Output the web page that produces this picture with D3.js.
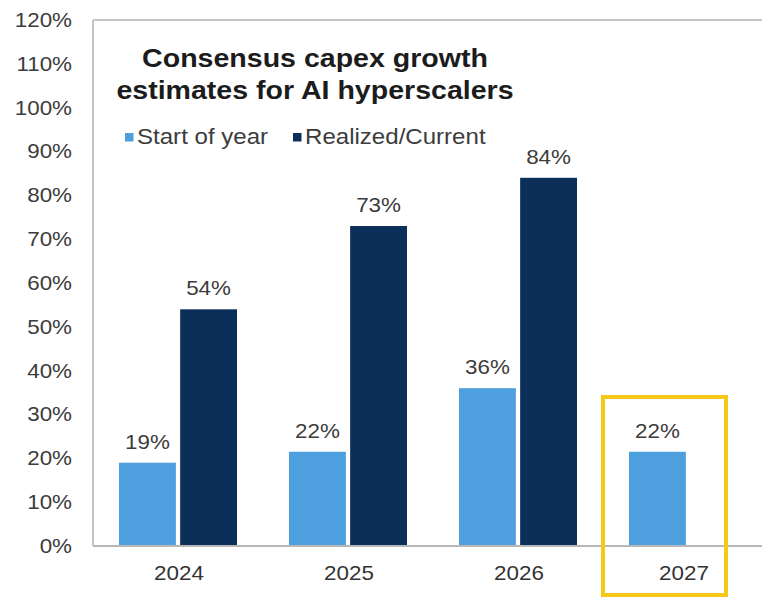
<!DOCTYPE html>
<html><head><meta charset="utf-8">
<script src="https://cdn.jsdelivr.net/npm/d3@7/dist/d3.min.js"></script>
<style>body{margin:0;background:#fff}svg{display:block}</style>
</head><body><svg id="c" width="762" height="598"></svg>
<script>
const categories = ["2024", "2025", "2026", "2027"];
const seriesNames = ["Start of year", "Realized/Current"];
const startOfYear = [19, 21.5, 36, 21.5];
const realized = [54, 73, 84, null];
const yTicks = [0, 10, 20, 30, 40, 50, 60, 70, 80, 90, 100, 110, 120];
const titleLines = ["Consensus capex growth", "estimates for AI hyperscalers"];
const highlight = "2027";

(function () {
const svg = d3.select("#c");
const mLeft = 93, mRight = 773, mTop = 20, mBottom = 546;
const colors = ["#4e9fde", "#0c2f5a"];
const font = "Arial, 'Liberation Sans', sans-serif";
const S = 1.12; // horizontal stretch of the text in the reference
const txtCol = "#3c3c3c";

const x = d3.scaleBand().domain(categories).range([mLeft, mRight]).paddingInner(0).paddingOuter(0);
const inner = d3.scaleBand().domain(seriesNames).range([26, 144]).paddingInner(0.07);
const y = d3.scaleLinear().domain([0, 120]).range([mBottom, mTop]);

// frame
svg.append("line").attr("x1", mLeft).attr("x2", 762).attr("y1", mTop).attr("y2", mTop)
  .attr("stroke", "#c4c4c4").attr("stroke-width", 2);
svg.append("line").attr("x1", mLeft).attr("x2", mLeft).attr("y1", mTop).attr("y2", mBottom)
  .attr("stroke", "#c4c4c4").attr("stroke-width", 2);

// y axis labels
const yAxis = d3.axisLeft(y).tickValues(yTicks).tickFormat(d => d + "%").tickSize(0).tickPadding(21);
const yg = svg.append("g").attr("transform", `translate(${mLeft},0)`).call(yAxis);
yg.select(".domain").remove();
yg.selectAll("text").attr("font-family", font).attr("font-size", 20).attr("fill", txtCol)
  .attr("x", -21 / S).attr("transform", `scale(${S},1)`);

const data = categories.map((c, i) => ({cat: c, vals: [startOfYear[i], realized[i]]}));
const groups = svg.append("g").selectAll("g").data(data).join("g")
  .attr("transform", d => `translate(${x(d.cat)},0)`);
const bars = groups.selectAll("g").data(d => d.vals.map((v, j) => ({v, s: seriesNames[j], j})).filter(e => e.v != null)).join("g");
bars.append("rect")
  .attr("x", d => inner(d.s)).attr("width", inner.bandwidth())
  .attr("y", d => y(d.v)).attr("height", d => mBottom - y(d.v))
  .attr("fill", d => colors[d.j]);
bars.append("text")
  .attr("transform", d => `translate(${inner(d.s) + inner.bandwidth() / 2},${y(d.v) - 14}) scale(${S},1)`)
  .attr("text-anchor", "middle").attr("font-family", font).attr("font-size", 20).attr("fill", txtCol)
  .text(d => Math.round(d.v) + "%");

// x axis
const xAxis = d3.axisBottom(x).tickSize(0).tickPadding(20);
const xg = svg.append("g").attr("transform", `translate(0,${mBottom})`).call(xAxis);
xg.select(".domain").remove();
xg.selectAll("text").attr("font-family", font).attr("font-size", 20).attr("fill", "#333")
  .attr("transform", d => `translate(${d === highlight ? -4 : 1},0) scale(${S},1)`);
svg.append("line").attr("x1", mLeft).attr("x2", 762).attr("y1", mBottom).attr("y2", mBottom)
  .attr("stroke", "#b8b8b8").attr("stroke-width", 2);

// title
svg.append("g").selectAll("text").data(titleLines).join("text")
  .attr("transform", (d, i) => `translate(315,${67 + i * 32}) scale(${S},1)`)
  .attr("text-anchor", "middle")
  .attr("font-family", font).attr("font-weight", "bold").attr("font-size", 25.5).attr("fill", "#1c1c1c")
  .text(d => d);

// legend
const legX = [125, 293];
const leg = svg.append("g").selectAll("g").data(seriesNames).join("g")
  .attr("transform", (d, i) => `translate(${legX[i]},133)`);
leg.append("rect").attr("x", 0).attr("y", 0).attr("width", 8.5).attr("height", 8.5).attr("fill", (d, i) => colors[i]);
leg.append("text").attr("transform", `translate(12,10.5) scale(${S},1)`)
  .attr("font-family", font).attr("font-size", 21.5).attr("fill", txtCol).text(d => d);

// highlight box
const hx = x(highlight);
svg.append("rect").attr("x", hx - 0).attr("y", 397).attr("width", 123).attr("height", 198)
  .attr("fill", "none").attr("stroke", "#f6c818").attr("stroke-width", 4);
})();
</script></body></html>
